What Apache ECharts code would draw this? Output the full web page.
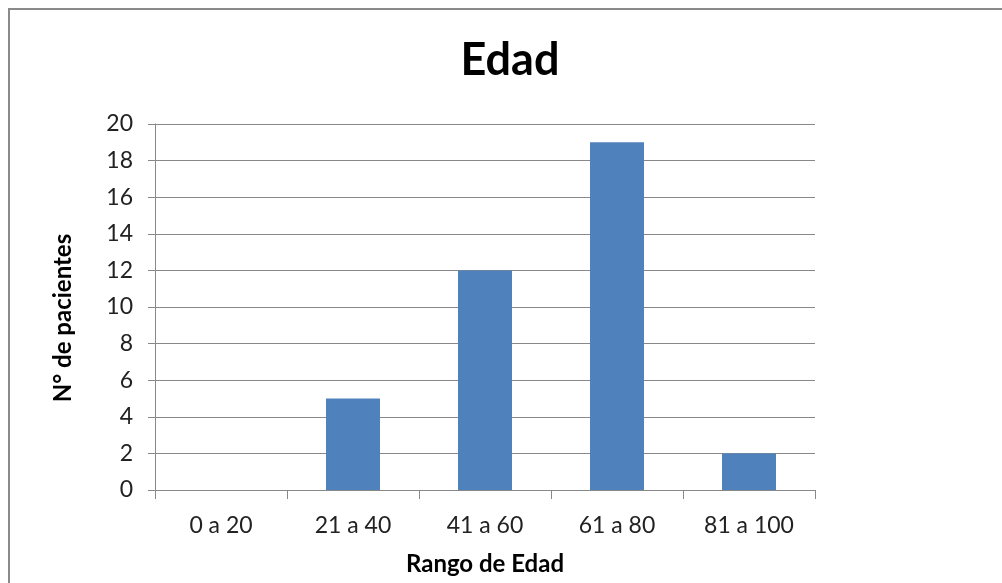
<!DOCTYPE html>
<html>
<head>
<meta charset="utf-8">
<script src="https://cdn.jsdelivr.net/npm/echarts@6/dist/echarts.min.js"></script>
<style>
html,body{margin:0;padding:0;background:#fff;}
#c{width:1002px;height:583px;}
</style>
</head>
<body>
<div id="c"></div>
<script>
const categories = ['0 a 20', '21 a 40', '41 a 60', '61 a 80', '81 a 100'];
const pacientes = [0, 5, 12, 19, 2];
const titleText = 'Edad';
const yName = 'N° de pacientes';
const xName = 'Rango de Edad';

const font = 'Lato, "Open Sans", "Noto Sans", sans-serif';
const chart = echarts.init(document.getElementById('c'), null, {renderer: 'canvas'});
chart.setOption({
  animation: false,
  backgroundColor: '#ffffff',
  title: {
    text: titleText,
    left: 505, top: 33, textAlign: 'center',
    textStyle: {fontFamily: font, fontWeight: 'bold', fontSize: 45, color: '#000'}
  },
  graphic: [{
    type: 'rect', silent: true, z: -1,
    shape: {x: 9, y: 9, width: 1200, height: 800},
    style: {fill: 'none', stroke: '#8a8a8a', lineWidth: 2}
  }],
  grid: {left: 155, right: 187, top: 124, bottom: 93, outerBoundsMode: 'none', containLabel: false},
  xAxis: {
    type: 'category',
    data: categories,
    name: xName,
    nameLocation: 'middle',
    nameGap: 62,
    nameTextStyle: {fontFamily: font, fontWeight: 'bold', fontSize: 24, color: '#000'},
    axisLine: {lineStyle: {color: '#888', width: 1}},
    axisTick: {show: true, length: 9, lineStyle: {color: '#888'}},
    axisLabel: {fontFamily: font, fontSize: 23, color: '#222', margin: 24}
  },
  yAxis: {
    type: 'value',
    min: 0, max: 20, interval: 2,
    name: yName,
    nameLocation: 'middle',
    nameGap: 80,
    nameTextStyle: {fontFamily: font, fontWeight: 'bold', fontSize: 24, color: '#000', padding: [0, 22, 0, 0]},
    axisLine: {show: true, lineStyle: {color: '#888', width: 1}},
    axisTick: {show: true, length: 7, lineStyle: {color: '#888'}},
    axisLabel: {fontFamily: font, fontSize: 23, color: '#222', margin: 22},
    splitLine: {show: true, lineStyle: {color: '#888', width: 1}}
  },
  series: [{
    type: 'bar',
    data: pacientes,
    barWidth: 54,
    itemStyle: {color: '#4F81BD'}
  }]
});
</script>
</body>
</html>
